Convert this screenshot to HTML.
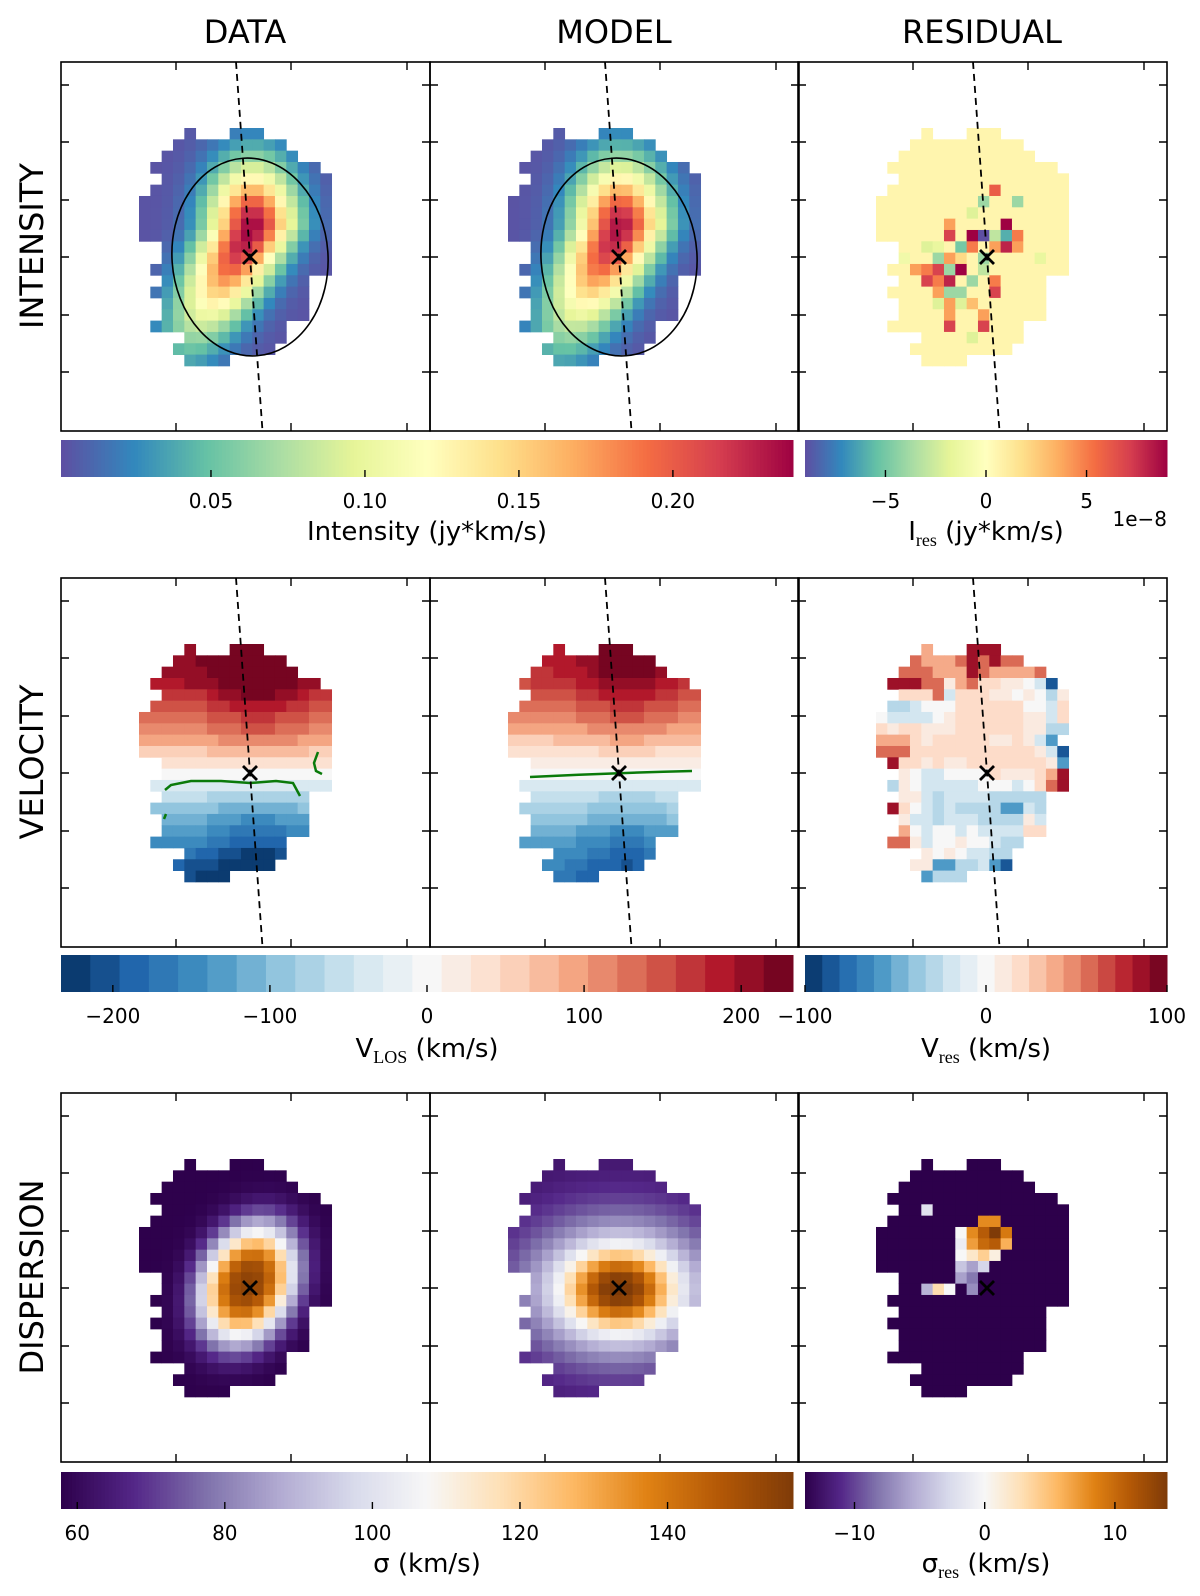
<!DOCTYPE html>
<html><head><meta charset="utf-8"><style>
html,body{margin:0;padding:0;background:#fff;}
svg{display:block;font-family:"DejaVu Sans","Liberation Sans",sans-serif;}
</style></head><body>
<svg id="fig" width="1200" height="1596" viewBox="0 0 1200 1596" xmlns="http://www.w3.org/2000/svg">
<text x="245" y="43" font-size="32" text-anchor="middle">DATA</text>
<text x="614" y="43" font-size="32" text-anchor="middle">MODEL</text>
<text x="982" y="43" font-size="32" text-anchor="middle">RESIDUAL</text>
<text transform="translate(43,246) rotate(-90)" font-size="32" text-anchor="middle">INTENSITY</text>
<text transform="translate(43,762) rotate(-90)" font-size="32" text-anchor="middle">VELOCITY</text>
<text transform="translate(43,1277) rotate(-90)" font-size="32" text-anchor="middle">DISPERSION</text>
<g id="maps"></g>
<g id="cbars"></g>
<text x="427" y="540" font-size="26" text-anchor="middle">Intensity (jy*km/s)</text>
<text x="986" y="540" font-size="26" text-anchor="middle">I<tspan font-family="'Liberation Serif',serif" font-size="18" dy="6">res</tspan><tspan dy="-6"> (jy*km/s)</tspan></text>
<text x="1167" y="526" font-size="20" text-anchor="end">1e−8</text>
<text x="427" y="1057" font-size="26" text-anchor="middle">V<tspan font-family="'Liberation Serif',serif" font-size="18" dy="6">LOS</tspan><tspan dy="-6"> (km/s)</tspan></text>
<text x="986" y="1057" font-size="26" text-anchor="middle">V<tspan font-family="'Liberation Serif',serif" font-size="18" dy="6">res</tspan><tspan dy="-6"> (km/s)</tspan></text>
<text x="427" y="1572" font-size="26" text-anchor="middle">σ (km/s)</text>
<text x="986" y="1572" font-size="26" text-anchor="middle">σ<tspan font-family="'Liberation Serif',serif" font-size="18" dy="6">res</tspan><tspan dy="-6"> (km/s)</tspan></text>
</svg>
<script>
// ---------- data ----------
const maskRows = [[[4,4],[8,10]],[[3,12]],[[2,13]],[[1,15]],[[2,16]],[[1,16]],[[0,16]],[[0,16]],[[0,16]],[[0,16]],[[2,16]],[[2,16]],[[1,16]],[[2,14]],[[1,14]],[[2,14]],[[2,14]],[[1,12]],[[4,12]],[[3,11]],[[4,7]]];
const velRowsData = [235,235,230,220,190,165,145,125,100,70,35,5,-35,-70,-100,-125,-150,-170,-195,-220,-233];
const velRowsModel = [205,205,200,185,165,145,125,105,75,45,20,-5,-35,-60,-85,-105,-125,-145,-160,-172,-185];
const velResRows = ["....o...RRR......","...rooorRrRrr....","..rrroooRroooor...",".RRRrrqorppqqwbD.","..ppprbpppqqwqwcq",".ccbwwwppppppwwbp","wbbbbwqppppppqqbp","pqppqqqppppppqqcc","ooopqpppppqqpqbB.","rrrpppppppppppqbD",".RppqpqqpppppppqB","..qwbbwwwwpqqqpoR",".cqwbbbbbwwwbwprR","..qqbcbbbbccccc..",".RpwbcbccccBBbc..","..qbbcbbbccccqb..","..owbwwbwbbbbpp..",".rrqbwwqwwbcc....","....qwqwbbcc.....","...qqBBccbBD.....","....Bccc........."];
const velResLevels = {R:90,r:60,o:40,p:20,q:8,w:0,b:-15,c:-30,B:-60,D:-90};
const intResCells = [[10,5,6],[9,6,-4],[12,6,-4],[8,7,-2],[11,8,9],[6,8,4],[6,9,7],[8,9,9],[9,9,-9],[10,9,-3],[11,9,-6],[12,9,5],[4,10,-2],[5,10,-1.5],[7,10,-5],[8,10,5],[10,10,4],[11,10,8],[12,10,4],[2,11,-1],[5,11,-4],[6,11,4],[7,11,2],[9,11,-4],[14,11,-1.5],[3,12,4],[4,12,5],[5,12,7],[6,12,-4],[7,12,9],[9,12,-3],[4,13,7],[5,13,5],[6,13,8],[8,13,-4],[10,13,5],[6,14,-4],[7,14,-4],[5,14,4],[10,14,7],[5,15,-2],[6,15,4],[7,15,-2],[8,15,3],[6,16,4],[9,16,4],[6,17,7],[9,17,7],[8,18,-2]];
const sigResCells = [[4,4,-2],[9,5,8],[10,5,8],[8,6,8],[9,6,11],[10,6,14],[11,6,9],[7,6,0],[8,7,7],[9,7,10],[10,7,11],[11,7,6],[7,7,-1],[7,8,0],[8,8,2],[9,8,4],[10,8,1],[7,9,-4],[8,9,-6],[9,9,-3],[7,10,-6],[8,10,-8],[5,11,3],[6,11,0],[8,11,-7],[4,11,-5],[2,18,5]];
const intTicks = [0.05,0.10,0.15,0.20];
const intTickLabels = ["0.05","0.10","0.15","0.20"];
const intResTicks = [-5,0,5];
const intResTickLabels = ["\u22125","0","5"];
const velTicks = [-200,-100,0,100,200];
const velTickLabels = ["\u2212200","\u2212100","0","100","200"];
const velResTicks = [-100,0,100];
const velResTickLabels = ["\u2212100","0","100"];
const sigTicks = [60,80,100,120,140];
const sigTickLabels = ["60","80","100","120","140"];
const sigResTicks = [-10,0,10];
const sigResTickLabels = ["\u221210","0","10"];

// ---------- colormaps ----------
const Spectral=["#5e4fa2","#3288bd","#66c2a5","#abdda4","#e6f598","#ffffbf","#fee08b","#fdae61","#f46d43","#d53e4f","#9e0142"];
const RdBu=["#053061","#2166ac","#4393c3","#92c5de","#d1e5f0","#f7f7f7","#fddbc7","#f4a582","#d6604d","#b2182b","#67001f"];
const PuOr=["#2d004b","#542788","#8073ac","#b2abd2","#d8daeb","#f7f7f7","#fee0b6","#fdb863","#e08214","#b35806","#7f3b08"];
function hex(h){return [parseInt(h.substr(1,2),16),parseInt(h.substr(3,2),16),parseInt(h.substr(5,2),16)];}
function cmap(stops,t){t=Math.max(0,Math.min(1,t));const n=stops.length-1;const i=Math.min(n-1,Math.floor(t*n));const f=t*n-i;const a=hex(stops[i]),b=hex(stops[i+1]);return "rgb("+a.map((v,k)=>Math.round(v+(b[k]-v)*f)).join(",")+")";}
function lin(v,a,b){return (v-a)/(b-a);}
function centered(v,a,b){return v<0?0.5+0.5*v/a:0.5+0.5*v/b;}
function disc(v,vmin,vmax,n){let t=lin(v,vmin,vmax);let k=Math.max(0,Math.min(n-1,Math.floor(t*n)));return (k+0.5)/n;}

// ---------- geometry ----------
const NS="http://www.w3.org/2000/svg";
const panelX=[61,430,798], panelY=[62,578,1093], PW=369, PH=369;
const GX=78, GY=66, CS=11.33;
const cbY=[440,955,1472], cbH=37;
const mainCb=[61,793], resCb=[805,1167];
function el(tag,attrs,parent){const e=document.createElementNS(NS,tag);for(const k in attrs)e.setAttribute(k,attrs[k]);parent.appendChild(e);return e;}
const maps=document.getElementById('maps'), cbars=document.getElementById('cbars');
function inMask(c,r){if(r<0||r>=maskRows.length)return false;return maskRows[r].some(s=>c>=s[0]&&c<=s[1]);}

function intData(c,r){const cc=c+0.5,rr=r+0.5;const ridge=10.0-0.5*Math.max(0,rr-8.8);const dx=cc-ridge,dy=rr-8.8;const sy=dy>0?6.0:3.8;return 0.003+0.235*Math.exp(-dx*dx/(2*2.6*2.6)-dy*dy/(2*sy*sy));}
function intModel(c,r){const cc=c+0.5,rr=r+0.5;const ridge=9.9-0.45*Math.max(0,rr-8.8);const dx=cc-ridge,dy=rr-8.8;const sy=dy>0?6.0:3.9;return 0.003+0.23*Math.exp(-dx*dx/(2*2.7*2.7)-dy*dy/(2*sy*sy));}
function velFromRows(rows,c,r){const cc=c+0.5;return rows[r]*(0.85+0.3*Math.exp(-(cc-10.5)*(cc-10.5)/18));}
function sigData(c,r){const dx=c+0.5-9.6,dy=r+0.5-11.0;const a=0.42;const u=-dx*Math.sin(a)+dy*Math.cos(a),v=dx*Math.cos(a)+dy*Math.sin(a);const q=(u/3.8)**2+(v/2.8)**2;return 58+96*Math.exp(-Math.pow(q/2,1.4));}
function sigModel(c,r){const dx=c+0.5-9.8,dy=r+0.5-11.5;const q=(dx/3.5)**2+(dy/2.6)**2;return 58+100/(1+Math.pow(q/2.2,1.3));}

const panels=[
 {row:0,col:0,name:'intensity-data',fn:(c,r)=>cmap(Spectral,lin(intData(c,r),0.0013,0.239))},
 {row:0,col:1,name:'intensity-model',fn:(c,r)=>cmap(Spectral,lin(intModel(c,r),0.0013,0.239))},
 {row:0,col:2,name:'intensity-residual',fn:(c,r)=>{const f=intResCells.find(x=>x[0]===c&&x[1]===r);return cmap(Spectral,lin(f?f[2]:0.6,-9,9));}},
 {row:1,col:0,name:'velocity-data',fn:(c,r)=>cmap(RdBu,disc(velFromRows(velRowsData,c,r),-233,233,25))},
 {row:1,col:1,name:'velocity-model',fn:(c,r)=>cmap(RdBu,disc(velFromRows(velRowsModel,c,r),-233,233,25))},
 {row:1,col:2,name:'velocity-residual',fn:null},
 {row:2,col:0,name:'dispersion-data',fn:(c,r)=>cmap(PuOr,lin(sigData(c,r),57.8,157))},
 {row:2,col:1,name:'dispersion-model',fn:(c,r)=>cmap(PuOr,lin(sigModel(c,r),57.8,157))},
 {row:2,col:2,name:'dispersion-residual',fn:(c,r)=>{const f=sigResCells.find(x=>x[0]===c&&x[1]===r);return cmap(PuOr,centered(f?f[2]:-14,13.8,14));}}
];

panels.forEach(p=>{
 const x0=panelX[p.col], y0=panelY[p.row];
 const g=el('g',{},maps);
 
 
 for(let r=0;r<21;r++)for(let c=0;c<17;c++){
  let col=null;
  if(p.fn===null){const ch=(velResRows[r]||'')[c];if(ch&&velResLevels[ch]!==undefined)col=cmap(RdBu,disc(velResLevels[ch],-100,100,21));}
  else if(inMask(c,r)) col=p.fn(c,r);
  if(!col)continue;
  const cell=el('rect',{x:(x0+GX+c*CS).toFixed(2),y:(y0+GY+r*CS).toFixed(2),width:(CS+0.4).toFixed(2),height:(CS+0.4).toFixed(2),fill:col},g);
  
  
 }
 if(p.row===0&&p.col<2){const e=el('ellipse',{cx:x0+189,cy:y0+195,rx:78,ry:99,fill:'none',stroke:'#000','stroke-width':1.6,transform:'rotate(-4 '+(x0+189)+' '+(y0+195)+')'},g);
  
  }
 if(p.row===1&&p.col===0){const z=el('path',{d:`M${x0+104} ${y0+212} L${x0+110} ${y0+207} L${x0+130} ${y0+203} L${x0+160} ${y0+203} L${x0+189} ${y0+205} L${x0+215} ${y0+203} L${x0+232} ${y0+205} L${x0+239} ${y0+218} M${x0+257} ${y0+174} L${x0+253} ${y0+185} L${x0+255} ${y0+193} L${x0+261} ${y0+196} M${x0+105} ${y0+236} L${x0+103} ${y0+241}`,fill:'none',stroke:'#0a7a0a','stroke-width':2.5},g);
  
  }
 if(p.row===1&&p.col===1){const z=el('path',{d:`M${x0+100} ${y0+199} Q${x0+180} ${y0+195} ${x0+262} ${y0+193}`,fill:'none',stroke:'#0a7a0a','stroke-width':2.5},g);
  
  }
 if(p.row<2){const l=el('line',{x1:x0+175,y1:y0,x2:x0+201.5,y2:y0+PH,stroke:'#000','stroke-width':1.8,'stroke-dasharray':'7,5'},g);
  
  }
 const cx=x0+189, cy=y0+195, s=7;
 const cr=el('path',{d:`M${cx-s} ${cy-s} L${cx+s} ${cy+s} M${cx-s} ${cy+s} L${cx+s} ${cy-s}`,stroke:'#000','stroke-width':2.8},g);
 
 
 const fr=el('rect',{x:x0,y:y0,width:PW,height:PH,fill:'none',stroke:'#000','stroke-width':1.6},g);
 
 
 let d='';
 [115,230,346].forEach(t=>{d+=`M${x0+t} ${y0} v8 M${x0+t} ${y0+PH} v-8 `;});
 [23,80,138,195,253,310].forEach(t=>{d+=`M${x0} ${y0+t} h8 M${x0+PW} ${y0+t} h-8 `;});
 const tk=el('path',{d:d,stroke:'#000','stroke-width':1.4},g);
 
 
});

function colorbar(name,x1,x2,y,stops,vmin,vmax,ticks,labels,nDisc,centeredMap){
 const g=el('g',{},cbars);
 
 
 const N=nDisc||200;
 const w=(x2-x1)/N;
 for(let i=0;i<N;i++){const t=(i+0.5)/N;const v=vmin+t*(vmax-vmin);const tt=centeredMap?centered(v,-vmin,vmax):t;
  el('rect',{x:(x1+i*w).toFixed(2),y:y,width:(w+0.5).toFixed(2),height:cbH,fill:cmap(stops,tt)},g);}
 const sx=v=>x1+(v-vmin)/(vmax-vmin)*(x2-x1);
 ticks.forEach((t,i)=>{
  el('line',{x1:sx(t),y1:y+cbH,x2:sx(t),y2:y+cbH-7,stroke:'#000','stroke-width':1.4},g);
  const tx=el('text',{x:sx(t),y:y+cbH+31,'font-size':20,'text-anchor':'middle'},g);
  
  
  tx.textContent=labels[i];
 });
 return g;
}
colorbar('intensity-colorbar',mainCb[0],mainCb[1],cbY[0],Spectral,0.0013,0.239,intTicks,intTickLabels);
colorbar('intensity-residual-colorbar',resCb[0],resCb[1],cbY[0],Spectral,-9,9,intResTicks,intResTickLabels);
colorbar('velocity-colorbar',mainCb[0],mainCb[1],cbY[1],RdBu,-233,233,velTicks,velTickLabels,25);
colorbar('velocity-residual-colorbar',resCb[0],resCb[1],cbY[1],RdBu,-100,100,velResTicks,velResTickLabels,21);
colorbar('dispersion-colorbar',mainCb[0],mainCb[1],cbY[2],PuOr,57.8,157,sigTicks,sigTickLabels);
colorbar('dispersion-residual-colorbar',resCb[0],resCb[1],cbY[2],PuOr,-13.8,14,sigResTicks,sigResTickLabels,200,true);
</script>
</body></html>
